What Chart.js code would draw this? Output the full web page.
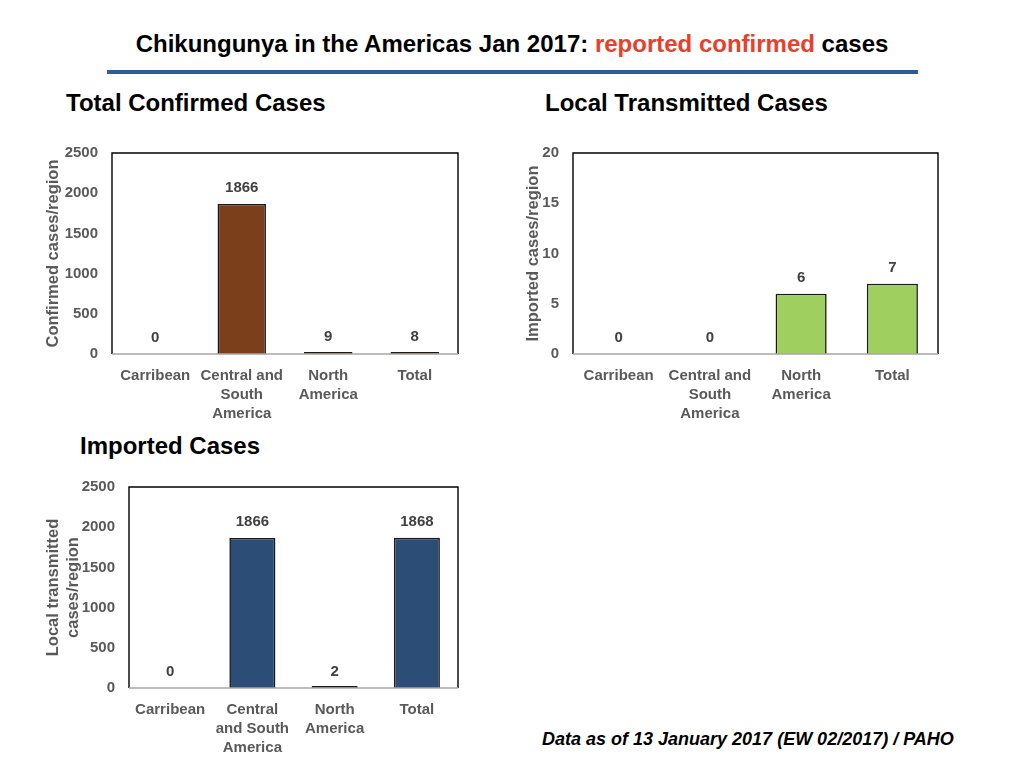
<!DOCTYPE html>
<html lang="en">
    <head>
        <meta charset="UTF-8">
        <meta content="width=device-width, initial-scale=1.0" name="viewport">
        <title>Chikungunya in the Americas Jan 2017</title>
        <style>
            body { margin: 0; background: #fff; font-family: 'Liberation Sans', Arial, sans-serif; }
            #page { position: relative; width: 1024px; height: 768px; overflow: hidden; }
            #title { position: absolute; left: 0; top: 30px; width: 1024px; text-align: center;
                     font-size: 24px; font-weight: bold; color: #000; }
            #title .red { color: #e8402a; }
            #rule { position: absolute; left: 107px; top: 70px; width: 811px; height: 4px; background: #2f5b97; }
            .sub { position: absolute; font-size: 24px; font-weight: bold; color: #000; }
            #foot { position: absolute; left: 542px; top: 729px; font-size: 18px; font-weight: bold;
                    font-style: italic; color: #000; }
            canvas { position: absolute; }
        </style>
    </head>

    <body>
        <div id="page">
            <div id="title">Chikungunya in the Americas Jan 2017: <span class="red">reported confirmed</span> cases</div>
            <div id="rule"></div>

            <div class="sub" style="left: 66px; top: 89px;">Total Confirmed Cases</div>
            <div class="sub" style="left: 545px; top: 89px;">Local Transmitted Cases</div>
            <div class="sub" style="left: 80px; top: 432px;">Imported Cases</div>

            <canvas id="chartConfirmed" width="430" height="290" style="left: 40px; top: 140px;"></canvas>
            <canvas id="chartLocal" width="430" height="290" style="left: 520px; top: 140px;"></canvas>
            <canvas id="chartImported" width="430" height="290" style="left: 40px; top: 474px;"></canvas>

            <div id="foot">Data as of 13 January 2017 (EW 02/2017) / PAHO</div>
        </div>
    </body>

<script src="https://cdn.jsdelivr.net/npm/chart.js@4"></script>

<script>
    // regions (x axis), two label wrappings used on the slide
    var regions = [['Carribean'], ['Central and', 'South', 'America'], ['North', 'America'], ['Total']];
    var regionsImported = [['Carribean'], ['Central', 'and South', 'America'], ['North', 'America'], ['Total']];

    // values per region
    var confirmedCases = [0, 1866, 9, 8];
    var localCases = [0, 0, 6, 7];
    var importedCases = [0, 1866, 2, 1868];

    // y axis ticks
    var confirmedTicks = [0, 500, 1000, 1500, 2000, 2500];
    var localTicks = [0, 5, 10, 15, 20];
    var importedTicks = [0, 500, 1000, 1500, 2000, 2500];

    var tickGray = '#595959';
    var fontFamily = '"Liberation Sans", Arial, sans-serif';

    // value labels above each bar + plot frame
    var barLabels = {
        id: 'barLabels',
        afterDatasetsDraw: function(chart, args, opts) {
            var ctx = chart.ctx;
            ctx.save();
            ctx.font = 'bold 15px ' + fontFamily;
            ctx.fillStyle = '#404040';
            ctx.textAlign = 'center';
            ctx.textBaseline = 'middle';
            (opts.values || []).forEach(function(v, i) {
                var x = chart.scales.x.getPixelForValue(i);
                var y = chart.scales.y.getPixelForValue(v);
                ctx.fillText(String(v), x, y - 16);
            });
            ctx.restore();
        },
        afterDraw: function(chart) {
            var a = chart.chartArea;
            var ctx = chart.ctx;
            ctx.save();
            ctx.lineWidth = 1.4;
            ctx.strokeStyle = '#000';
            ctx.beginPath();
            ctx.moveTo(a.left, a.bottom);
            ctx.lineTo(a.left, a.top);
            ctx.lineTo(a.right, a.top);
            ctx.lineTo(a.right, a.bottom);
            ctx.stroke();
            ctx.strokeStyle = '#a6a6a6';
            ctx.lineWidth = 1.5;
            ctx.beginPath();
            ctx.moveTo(a.left, a.bottom);
            ctx.lineTo(a.right, a.bottom);
            ctx.stroke();
            ctx.restore();
        }
    };

    function makeChart(id, labels, values, ticks, color, axisTitle, yWidth) {
        var tickFont = { family: fontFamily, size: 15, weight: 'bold', lineHeight: 1.27 };
        return new Chart(id, {
            type: 'bar',
            data: {
                labels: labels,
                datasets: [{
                    // zero regions get no bar at all, the rest at least a thin one
                    data: values.map(function(v) { return v === 0 ? null : v; }),
                    backgroundColor: color,
                    borderColor: '#1a1a1a',
                    borderWidth: 1.6,
                    borderSkipped: 'bottom',
                    minBarLength: 2,
                    categoryPercentage: 1,
                    barPercentage: 0.56
                }]
            },
            options: {
                responsive: false,
                animation: false,
                events: [],
                layout: { padding: { top: 13, right: 12, bottom: 0, left: 0 } },
                plugins: {
                    legend: { display: false },
                    tooltip: { enabled: false },
                    barLabels: { values: values }
                },
                scales: {
                    x: {
                        grid: { display: false, drawTicks: false },
                        border: { display: false },
                        ticks: { color: tickGray, font: tickFont, padding: 12, maxRotation: 0, autoSkip: false },
                        afterFit: function(scale) { scale.height = 76; }
                    },
                    y: {
                        min: ticks[0],
                        max: ticks[ticks.length - 1],
                        afterBuildTicks: function(scale) {
                            scale.ticks = ticks.map(function(v) { return { value: v }; });
                        },
                        grid: { display: false, drawTicks: false },
                        border: { display: false },
                        ticks: {
                            color: tickGray, font: tickFont, padding: 14,
                            callback: function(v) { return String(v); }
                        },
                        title: {
                            display: true,
                            text: axisTitle,
                            color: tickGray,
                            font: { family: fontFamily, size: 16.5, weight: 'bold', lineHeight: 1.18 },
                            padding: { top: 4, bottom: 2 }
                        },
                        afterFit: function(scale) {
                            scale.width = yWidth;
                            scale.paddingTop = 0;
                            scale.paddingBottom = 0;
                        }
                    }
                }
            },
            plugins: [barLabels]
        });
    }

    makeChart('chartConfirmed', regions, confirmedCases, confirmedTicks, '#7b3f1c', 'Confirmed cases/region', 72);
    makeChart('chartLocal', regions, localCases, localTicks, '#9fd05f', 'Imported cases/region', 53);
    makeChart('chartImported', regionsImported, importedCases, importedTicks, '#2c4d75',
        ['Local transmitted', 'cases/region'], 89);
</script>

</html>
